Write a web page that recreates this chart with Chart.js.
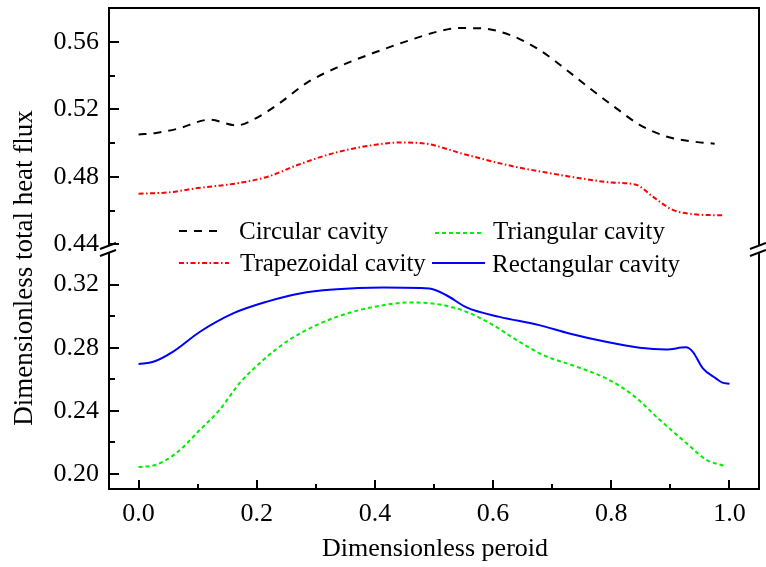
<!DOCTYPE html>
<html><head><meta charset="utf-8">
<script src="https://cdn.jsdelivr.net/npm/chart.js@4.4.1/dist/chart.umd.min.js"></script>
<style>html,body{margin:0;padding:0;background:#fff}canvas{display:block}</style>
</head><body>
<canvas id="c" width="766" height="567"></canvas>
<script>
// ---- data ----
const xTitle = 'Dimensionless peroid';
const yTitle = 'Dimensionless total heat flux';
const seriesNames = ['Circular cavity', 'Trapezoidal cavity', 'Triangular cavity', 'Rectangular cavity'];

const circularX = [0, 0.03, 0.067, 0.12, 0.166, 0.194, 0.239, 0.284, 0.34, 0.397, 0.453, 0.507, 0.543, 0.577, 0.628, 0.678, 0.724, 0.763, 0.808, 0.848, 0.893, 0.938, 0.975];
const circularY = [0.505, 0.506, 0.5085, 0.5138, 0.5104, 0.5138, 0.5237, 0.5355, 0.5454, 0.5533, 0.5602, 0.5661, 0.5681, 0.568, 0.5641, 0.5553, 0.5434, 0.5326, 0.5207, 0.5108, 0.5039, 0.5009, 0.4996];

const trapezoidalX = [0, 0.05, 0.10, 0.17, 0.22, 0.27, 0.33, 0.39, 0.445, 0.48, 0.555, 0.63, 0.695, 0.757, 0.80, 0.842, 0.87, 0.904, 0.938, 0.99];
const trapezoidalY = [0.470, 0.4707, 0.4733, 0.4763, 0.4802, 0.4871, 0.494, 0.4984, 0.5003, 0.4999, 0.493, 0.4865, 0.4822, 0.4786, 0.4766, 0.4753, 0.4683, 0.4604, 0.4579, 0.4571];

const triangularX = [0, 0.03, 0.064, 0.104, 0.137, 0.171, 0.211, 0.25, 0.301, 0.357, 0.414, 0.459, 0.509, 0.555, 0.6, 0.64, 0.685, 0.741, 0.791, 0.836, 0.882, 0.927, 0.961, 0.99];
const triangularY = [0.2044, 0.2059, 0.2133, 0.228, 0.2406, 0.2575, 0.2722, 0.2837, 0.2943, 0.3021, 0.3069, 0.3086, 0.3074, 0.3027, 0.2943, 0.2848, 0.2753, 0.268, 0.2606, 0.2501, 0.2343, 0.2196, 0.209, 0.2052];

const rectangularX = [0, 0.025, 0.058, 0.104, 0.16, 0.216, 0.273, 0.329, 0.414, 0.492, 0.521, 0.555, 0.611, 0.678, 0.729, 0.791, 0.848, 0.893, 0.926, 0.938, 0.955, 0.977, 0.988, 1.0];
const rectangularY = [0.2697, 0.2711, 0.2774, 0.2901, 0.3017, 0.309, 0.3143, 0.3168, 0.3181, 0.3175, 0.3132, 0.3055, 0.2995, 0.2943, 0.289, 0.2837, 0.28, 0.2789, 0.2802, 0.2774, 0.2669, 0.2606, 0.2579, 0.2572];

const xTicks = [0, 0.1, 0.2, 0.3, 0.4, 0.5, 0.6, 0.7, 0.8, 0.9, 1.0];
const xLabelled = [0, 0.2, 0.4, 0.6, 0.8, 1.0];
const yTopTicks = [0.44, 0.46, 0.48, 0.50, 0.52, 0.54, 0.56];
const yTopLabelled = [0.44, 0.48, 0.52, 0.56];
const yBotTicks = [0.20, 0.22, 0.24, 0.26, 0.28, 0.30, 0.32];
const yBotLabelled = [0.20, 0.24, 0.28, 0.32];

// ---- helpers ----
const FONT = "'Liberation Serif', 'Times New Roman', serif";
const pts = (xs, ys) => xs.map((x, i) => ({ x: x, y: ys[i] }));
const has = (arr, v) => arr.some(a => Math.abs(a - v) < 1e-9);

const datasets = [
  { label: seriesNames[0], data: pts(circularX, circularY), yAxisID: 'yTop', borderColor: '#000000', borderWidth: 2, borderDash: [8, 7] },
  { label: seriesNames[1], data: pts(trapezoidalX, trapezoidalY), yAxisID: 'yTop', borderColor: '#ff0000', borderWidth: 2, borderDash: [5, 2.5, 1.5, 2.5] },
  { label: seriesNames[2], data: pts(triangularX, triangularY), yAxisID: 'yBot', borderColor: '#00ee00', borderWidth: 2, borderDash: [4, 3] },
  { label: seriesNames[3], data: pts(rectangularX, rectangularY), yAxisID: 'yBot', borderColor: '#0000ff', borderWidth: 2, borderDash: [] }
].map(d => Object.assign(d, { showLine: true, pointRadius: 0, cubicInterpolationMode: 'monotone', fill: false }));

const legendPos = [
  { lx1: 179, lx2: 220, ly: 231, tx: 239, ty: 239 },
  { lx1: 179, lx2: 229, ly: 263, tx: 240, ty: 271 },
  { lx1: 435, lx2: 483, ly: 233, tx: 493, ty: 239 },
  { lx1: 432, lx2: 485, ly: 263, tx: 492, ty: 272 }
];

const framePlugin = {
  id: 'frame',
  afterDraw(chart) {
    const ctx = chart.ctx;
    const a = chart.chartArea;
    const xs = chart.scales.x, yt = chart.scales.yTop, yb = chart.scales.yBot;
    ctx.save();
    ctx.strokeStyle = '#000';
    ctx.lineWidth = 2;
    ctx.setLineDash([]);
    // frame
    ctx.strokeRect(a.left, a.top, a.right - a.left, a.bottom - a.top);
    // inward ticks on x axis
    xTicks.forEach(v => {
      const p = Math.round(xs.getPixelForValue(v));
      const len = has(xLabelled, v) ? 9 : 5;
      ctx.beginPath(); ctx.moveTo(p, a.bottom); ctx.lineTo(p, a.bottom - len); ctx.stroke();
    });
    // inward ticks on y axes
    [[yt, yTopTicks, yTopLabelled], [yb, yBotTicks, yBotLabelled]].forEach(([s, ticks, lab]) => {
      ticks.forEach(v => {
        const p = Math.round(s.getPixelForValue(v));
        const len = has(lab, v) ? 10 : 6;
        ctx.beginPath(); ctx.moveTo(a.left, p); ctx.lineTo(a.left + len, p); ctx.stroke();
      });
    });
    // axis breaks
    const by = yt.bottom;
    [a.left, a.right].forEach(bx => {
      ctx.fillStyle = '#fff';
      ctx.fillRect(bx - 3, by - 4, 6, 8);
      ctx.beginPath(); ctx.moveTo(bx - 9, by + 0); ctx.lineTo(bx + 7, by - 6); ctx.stroke();
      ctx.beginPath(); ctx.moveTo(bx - 9, by + 7); ctx.lineTo(bx + 7, by + 1); ctx.stroke();
    });
    // legend
    ctx.font = '25px ' + FONT;
    ctx.fillStyle = '#000';
    ctx.textAlign = 'left';
    ctx.textBaseline = 'alphabetic';
    chart.data.datasets.forEach((d, i) => {
      const L = legendPos[i];
      ctx.strokeStyle = d.borderColor;
      ctx.lineWidth = d.borderWidth;
      ctx.setLineDash(d.borderDash);
      ctx.beginPath(); ctx.moveTo(L.lx1, L.ly); ctx.lineTo(L.lx2, L.ly); ctx.stroke();
      ctx.setLineDash([]);
      ctx.fillText(d.label, L.tx, L.ty);
    });
    // axis titles
    ctx.font = '26px ' + FONT;
    ctx.textAlign = 'center';
    ctx.fillText(xTitle, 435, 556);
    ctx.font = '27px ' + FONT;
    ctx.save();
    ctx.translate(32, 268);
    ctx.rotate(-Math.PI / 2);
    ctx.fillText(yTitle, 0, 0);
    ctx.restore();
    ctx.restore();
  }
};

const tickFont = { family: FONT, size: 26 };
const noPad = s => { s.paddingTop = 0; s.paddingBottom = 0; s.paddingLeft = 0; s.paddingRight = 0; };

new Chart(document.getElementById('c'), {
  type: 'scatter',
  data: { datasets: datasets },
  options: {
    responsive: false,
    animation: false,
    devicePixelRatio: 1,
    layout: { padding: { top: 8, right: 7, left: 0, bottom: 0 } },
    plugins: { legend: { display: false }, tooltip: { enabled: false } },
    scales: {
      x: {
        type: 'linear', position: 'bottom', min: -0.05, max: 1.05,
        grid: { display: false, drawTicks: false }, border: { display: false },
        afterBuildTicks: s => { s.ticks = xTicks.map(v => ({ value: v })); },
        afterFit: s => { s.height = 78; noPad(s); },
        ticks: { autoSkip: false, maxRotation: 0, padding: 10, color: '#000', font: tickFont,
          callback: v => has(xLabelled, v) ? v.toFixed(1) : '' }
      },
      yBot: {
        type: 'linear', position: 'left', stack: 'ybreak', stackWeight: 240, min: 0.1905, max: 0.3425,
        grid: { display: false, drawTicks: false }, border: { display: false },
        afterBuildTicks: s => { s.ticks = yBotTicks.map(v => ({ value: v })); },
        afterFit: s => { s.width = 109; noPad(s); },
        ticks: { autoSkip: false, padding: 10, color: '#000', font: tickFont,
          callback: v => has(yBotLabelled, v) ? v.toFixed(2) : '' }
      },
      yTop: {
        type: 'linear', position: 'left', stack: 'ybreak', stackWeight: 241, min: 0.4372, max: 0.58,
        grid: { display: false, drawTicks: false }, border: { display: false },
        afterBuildTicks: s => { s.ticks = yTopTicks.map(v => ({ value: v })); },
        afterFit: s => { s.width = 109; noPad(s); },
        ticks: { autoSkip: false, padding: 10, color: '#000', font: tickFont,
          callback: v => has(yTopLabelled, v) ? v.toFixed(2) : '' }
      }
    }
  },
  plugins: [framePlugin]
});
</script>
</body></html>
